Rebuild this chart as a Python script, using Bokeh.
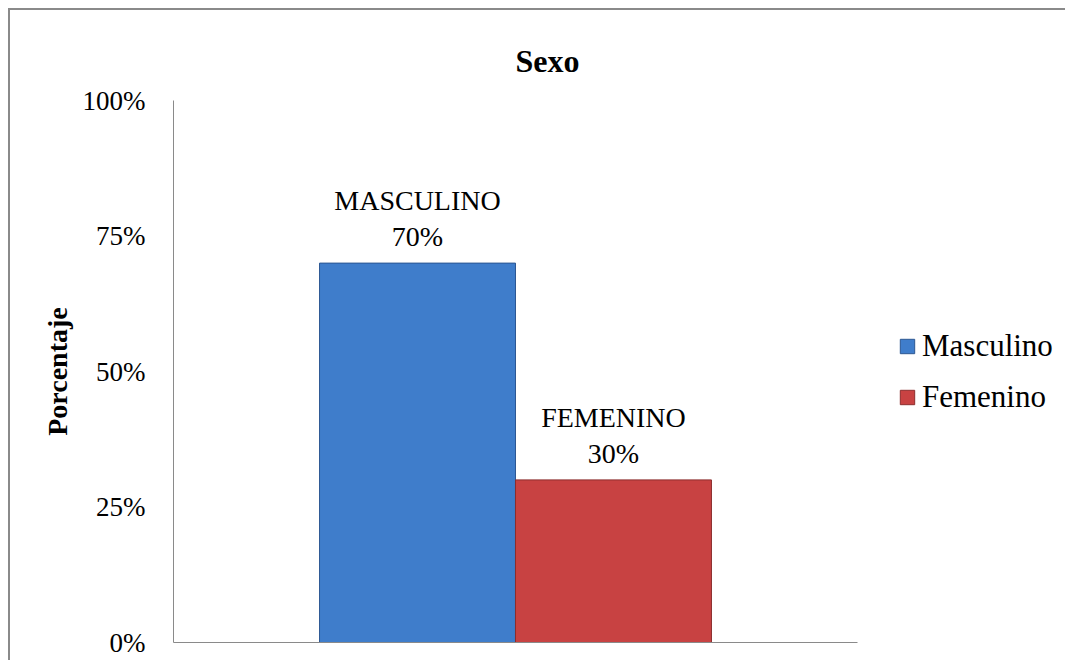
from bokeh.plotting import figure
from bokeh.layouts import column
from bokeh.models import ColumnDataSource, Range1d, Legend, LegendItem, FixedTicker, CustomJSTickFormatter
from bokeh.core.properties import value
from bokeh.embed import file_html
from bokeh.resources import INLINE

categories = ["Masculino", "Femenino"]
label_names = ["MASCULINO", "FEMENINO"]
percentages = [70, 30]
tick_values = [0, 25, 50, 75, 100]
colors = ["#3f7dcb", "#c84242"]
line_colors = ["#2c5792", "#8c2d2d"]

SERIF = "Liberation Serif"
W = 0.2865
XMAX = 1.3041
xs = [0.5 + (i - 0.5) * W for i in range(len(categories))]
texts = [f"{n}\n{v}%" for n, v in zip(label_names, percentages)]

src = ColumnDataSource(dict(x=xs, top=percentages, name=categories, color=colors,
                            lc=line_colors, txt=texts))

p = figure(width=1055, height=650, output_backend="svg", toolbar_location=None,
           x_range=Range1d(0, XMAX), y_range=Range1d(0, 100),
           min_border_left=163, min_border_right=0, min_border_top=90, min_border_bottom=18)

p.title.text = "Sexo"
p.title.text_font = SERIF
p.title.text_font_size = "32px"
p.title.text_font_style = "bold"
p.title.text_color = "#000000"
p.title.align = "left"
p.title.offset = 342
p.title.standoff = 43

r = p.vbar(x="x", top="top", width=W, bottom=0, source=src, fill_color="color",
           line_color="lc", line_width=1)

p.text(x="x", y="top", text="txt", source=src, text_align="center", text_baseline="bottom",
       y_offset=-11, text_font=value(SERIF), text_font_size="28px", text_color="#000000",
       text_line_height=1.15)

p.xgrid.visible = False
p.ygrid.visible = False
p.outline_line_color = None

p.xaxis.bounds = (0, 1)
p.xaxis.major_label_text_font_size = "0px"
p.xaxis.major_tick_line_color = None
p.xaxis.minor_tick_line_color = None
p.xaxis.axis_line_color = "#8a8a8a"
p.xaxis.ticker = FixedTicker(ticks=[])

p.yaxis.ticker = FixedTicker(ticks=tick_values)
p.yaxis.formatter = CustomJSTickFormatter(code="return tick + '%';")
p.yaxis.major_tick_line_color = None
p.yaxis.minor_tick_line_color = None
p.yaxis.axis_line_color = "#8a8a8a"
p.yaxis.major_label_text_font = SERIF
p.yaxis.major_label_text_font_size = "27px"
p.yaxis.major_label_text_color = "#000000"
p.yaxis.major_label_standoff = 22
p.yaxis.axis_label = "Porcentaje"
p.yaxis.axis_label_text_font = SERIF
p.yaxis.axis_label_text_font_size = "28px"
p.yaxis.axis_label_text_font_style = "bold"
p.yaxis.axis_label_text_color = "#000000"
p.yaxis.axis_label_standoff = 7

items = [LegendItem(label=c, renderers=[r], index=i) for i, c in enumerate(categories)]
legend = Legend(items=items, location=(725, 227), label_text_font=SERIF,
                label_text_font_size="31px", label_text_color="#000000",
                glyph_width=18, glyph_height=18,
                label_standoff=6, spacing=15, padding=0, margin=0, border_line_color=None,
                background_fill_alpha=0)
p.add_layout(legend)

layout = column(p, styles={"margin-left": "8px", "margin-top": "8px",
                           "border-left": "2px solid #8a8a8a",
                           "border-top": "2px solid #8a8a8a"})

open("out.html", "w").write(file_html(layout, INLINE))
